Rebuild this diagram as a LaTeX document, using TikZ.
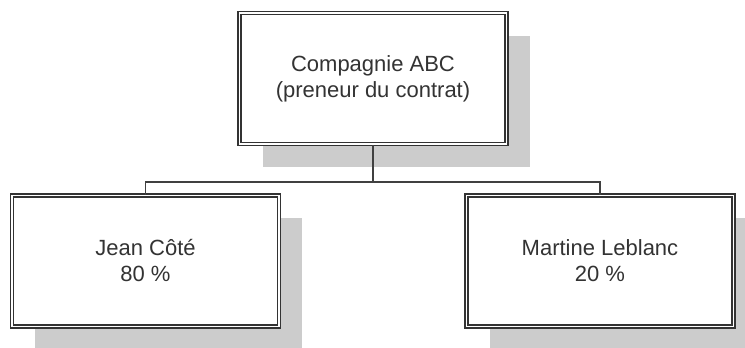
\documentclass[tikz,border=0pt]{standalone}
\usepackage{fontspec}
\setmainfont{Liberation Sans}
\usetikzlibrary{shadows}
\begin{document}
\begin{tikzpicture}[x=1pt, y=1pt,
  box/.style={draw=black!80, line width=1.7pt, double=white, double distance=1.5pt,
    fill=white, minimum width=267pt, minimum height=131pt, align=center,
    text=black!80, font=\fontsize{22}{26}\selectfont,
    drop shadow={shadow xshift=23pt, shadow yshift=-23pt, fill=black!20, opacity=1}},
  link/.style={draw=black!75, line width=1.6pt}]
\useasboundingbox (0,0) rectangle (745,348);
\draw(373,269.5) node[box] (abc) {Compagnie ABC\\(preneur du contrat)};
\draw(145.5,87) node[box] (jean) {Jean Côté\\80 \%};
\draw(600,87) node[box] (martine) {Martine Leblanc\\20 \%};
\coordinate (bus) at (373,166);
\draw[link] (abc) -- (bus);
\foreach \x in {jean,martine} \draw[link] (bus) -| (\x);
\end{tikzpicture}
\end{document}
